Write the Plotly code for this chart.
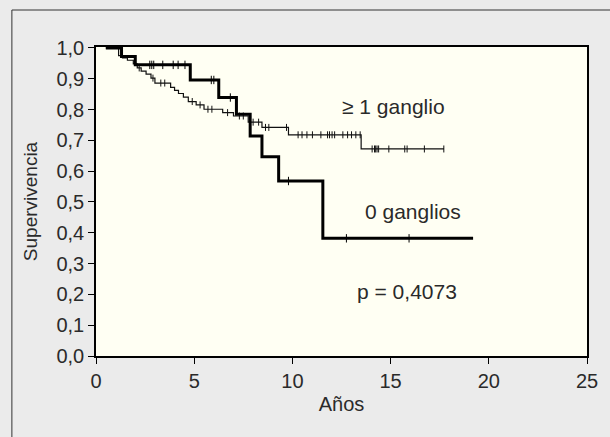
import numpy as np
import plotly.graph_objects as go

# ---- data ----
# 0 ganglios (thick curve)
t_zero = [0.5, 1.3, 2.0, 4.8, 6.25, 7.15, 7.85, 8.45, 9.3, 11.55, 19.2]
s_zero = [1.0, 0.972, 0.945, 0.896, 0.839, 0.785, 0.714, 0.647, 0.568, 0.382, 0.382]
cens_zero = [2.74, 2.84, 2.94, 3.4, 3.93, 4.18, 4.53, 5.87, 6.0, 6.84, 9.8, 12.75, 15.94]

# >= 1 ganglio (thin curve)
t_one = [0.5, 1.15, 1.35, 1.6, 1.9, 2.1, 2.3, 2.55, 2.8, 3.0, 3.8, 4.0, 4.2, 4.45,
         4.7, 5.1, 5.5, 6.45, 7.0, 7.75, 8.45, 9.8, 13.5, 17.72]
s_one = [1.0, 0.975, 0.968, 0.96, 0.948, 0.935, 0.925, 0.915, 0.902, 0.886, 0.872,
         0.862, 0.852, 0.84, 0.826, 0.815, 0.801, 0.79, 0.779, 0.759, 0.742, 0.718,
         0.672, 0.672]
cens_one = [2.2, 2.9, 3.3, 3.5, 4.9, 5.3, 5.7, 5.9, 6.7, 7.3, 7.5, 8.0, 8.28, 8.63,
            8.8, 9.7, 10.29, 10.49, 10.74, 11.02, 11.45, 11.79, 11.89, 12.02, 12.15,
            12.57, 12.81, 13.01, 13.23, 13.45, 14.06, 14.18, 14.24, 14.31, 14.39,
            14.91, 15.72, 15.84, 16.72, 17.71]

y_ticks = [0.0, 0.1, 0.2, 0.3, 0.4, 0.5, 0.6, 0.7, 0.8, 0.9, 1.0]
x_ticks = [0, 5, 10, 15, 20, 25]


def step_value(times, surv, at):
    idx = np.searchsorted(np.array(times), np.array(at), side="right") - 1
    return list(np.array(surv)[idx])


FONT = "Liberation Sans, Arial, sans-serif"
TXT = "#2a2a2a"

fig = go.Figure()
fig.add_trace(go.Scatter(x=t_one, y=s_one, mode="lines", line_shape="hv",
                         line=dict(color="#111", width=1.2), showlegend=False))
fig.add_trace(go.Scatter(x=cens_one, y=step_value(t_one, s_one, cens_one), mode="markers",
                         marker=dict(symbol="line-ns", size=5, line=dict(color="#111", width=1)),
                         showlegend=False))
fig.add_trace(go.Scatter(x=t_zero, y=s_zero, mode="lines", line_shape="hv",
                         line=dict(color="#000", width=3), showlegend=False))
fig.add_trace(go.Scatter(x=cens_zero, y=step_value(t_zero, s_zero, cens_zero), mode="markers",
                         marker=dict(symbol="line-ns", size=6, line=dict(color="#000", width=1)),
                         showlegend=False))

fig.add_annotation(x=15.15, y=0.81, text="≥ 1 ganglio", showarrow=False,
                   font=dict(family=FONT, size=21, color=TXT))
fig.add_annotation(x=16.15, y=0.47, text="0 ganglios", showarrow=False,
                   font=dict(family=FONT, size=21, color=TXT))
fig.add_annotation(x=15.85, y=0.21, text="p = 0,4073", showarrow=False,
                   font=dict(family=FONT, size=21, color=TXT))

# outer frame (only top/left visible in the picture)
fig.add_shape(type="rect", xref="paper", yref="paper",
              x0=(10 - 96) / 502, x1=(640 - 96) / 502,
              y0=(356 - 470) / 309, y1=(356 - 10) / 309,
              line=dict(color="#333", width=1), layer="below")

fig.update_layout(
    width=610, height=437, autosize=False,
    margin=dict(l=96, r=12, t=47, b=81),
    paper_bgcolor="#ebebeb", plot_bgcolor="#fffff3",
    font=dict(family=FONT, size=20, color=TXT),
    separators=",.",
)
fig.update_xaxes(range=[0, 25], tickvals=x_ticks, ticks="outside", ticklen=6,
                 tickcolor="#000", showline=True, linecolor="#000", linewidth=1.5,
                 mirror=True, showgrid=False, zeroline=False,
                 tickfont=dict(size=20),
                 title=dict(text="Años", standoff=6, font=dict(size=20)))
fig.update_yaxes(range=[0, 1.003], tickvals=y_ticks, tickformat=".1f", ticks="outside",
                 ticklen=6, tickcolor="#000", showline=True, linecolor="#000", linewidth=1.5,
                 mirror=True, showgrid=False, zeroline=False,
                 tickfont=dict(size=20),
                 title=dict(text="Supervivencia", standoff=14, font=dict(size=19)))

post = (
    "document.documentElement.style.overflow='hidden';"
    "document.body.style.margin='0';document.body.style.overflow='hidden';"
    "document.body.style.background='#ebebeb';"
)
fig.write_html("out.html", config={"displayModeBar": False, "responsive": False},
               post_script=post)
